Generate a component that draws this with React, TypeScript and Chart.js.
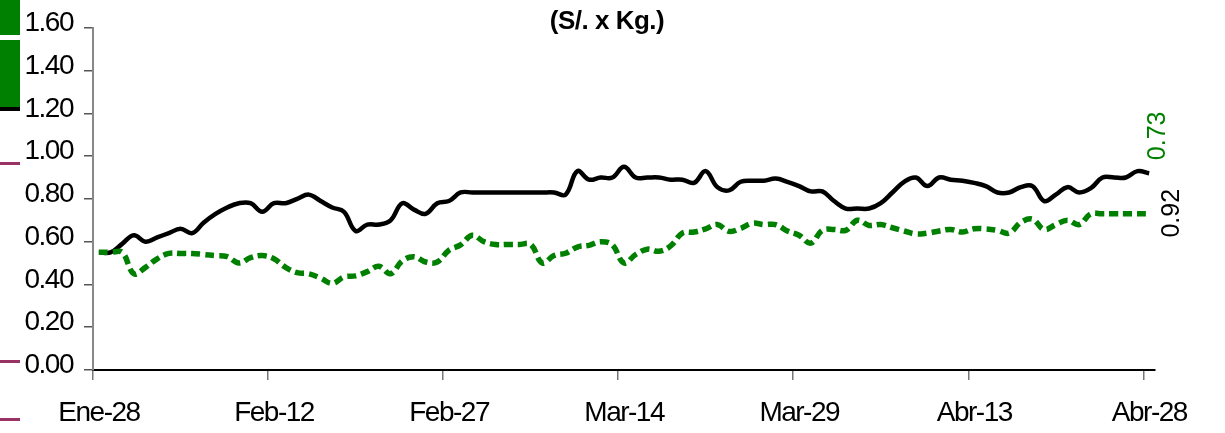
import React, { useEffect, useRef } from "react";
import { Chart, registerables } from "chart.js";

Chart.register(...registerables);

const tickDays = [0, 15, 30, 45, 60, 75, 90];
const tickLabels = ["Ene-28", "Feb-12", "Feb-27", "Mar-14", "Mar-29", "Abr-13", "Abr-28"];
const yTicks = [0, 0.2, 0.4, 0.6, 0.8, 1.0, 1.2, 1.4, 1.6];

const serieNegra = [
  0.55, 0.55, 0.59, 0.63, 0.60, 0.62, 0.64, 0.66, 0.64, 0.69,
  0.73, 0.76, 0.78, 0.78, 0.74, 0.78, 0.78, 0.80, 0.82, 0.79,
  0.76, 0.74, 0.65, 0.68, 0.68, 0.70, 0.78, 0.75, 0.73, 0.78,
  0.79, 0.83, 0.83, 0.83, 0.83, 0.83, 0.83, 0.83, 0.83, 0.83,
  0.82, 0.93, 0.89, 0.90, 0.90, 0.95, 0.90, 0.90, 0.90, 0.89,
  0.89, 0.875, 0.93, 0.855, 0.84, 0.88, 0.885, 0.885, 0.895, 0.88,
  0.86, 0.835, 0.835, 0.79, 0.755, 0.755, 0.755, 0.78, 0.83, 0.88,
  0.90, 0.86, 0.90, 0.89, 0.885, 0.875, 0.86, 0.83, 0.83, 0.855,
  0.86, 0.79, 0.82, 0.855, 0.83, 0.85, 0.90, 0.90, 0.90, 0.93,
  0.92,
];

const serieVerde = [
  0.55, 0.55, 0.55, 0.45, 0.48, 0.52, 0.545, 0.545, 0.545, 0.54,
  0.535, 0.53, 0.50, 0.525, 0.535, 0.52, 0.48, 0.455, 0.45, 0.43,
  0.405, 0.435, 0.44, 0.46, 0.485, 0.45, 0.51, 0.53, 0.505, 0.505,
  0.56, 0.585, 0.63, 0.60, 0.587, 0.587, 0.587, 0.587, 0.50, 0.535,
  0.546, 0.575, 0.583, 0.60, 0.585, 0.50, 0.54, 0.565, 0.555, 0.58,
  0.64, 0.645, 0.66, 0.68, 0.648, 0.662, 0.686, 0.68, 0.68, 0.65,
  0.63, 0.593, 0.653, 0.657, 0.653, 0.70, 0.676, 0.68, 0.665, 0.65,
  0.636, 0.64, 0.65, 0.657, 0.645, 0.66, 0.66, 0.653, 0.64, 0.69,
  0.705, 0.657, 0.68, 0.70, 0.68, 0.73, 0.73, 0.73, 0.73, 0.73,
  0.73,
];

const titulo = "(S/. x Kg.)";
const FONT = "'Liberation Sans', Arial, sans-serif";

const toPoints = (arr: number[]) => arr.map((v, i) => ({ x: i + 0.5, y: v }));

const squeezePlugin = {
  id: "squeeze",
  beforeDraw(chart: any) {
    (chart.ctx as any).letterSpacing = "-1.5px";
  },
  afterDraw(chart: any) {
    (chart.ctx as any).letterSpacing = "0px";
  },
};

const decorPlugin = {
  id: "decor",
  afterDraw(chart: any) {
    const ctx = chart.ctx;
    const xs = chart.scales.x;
    const ys = chart.scales.y;
    ctx.save();
    (ctx as any).letterSpacing = "0px";
    // cropped legend remnants on the left edge
    ctx.fillStyle = "#008000";
    ctx.fillRect(0, 0, 20, 35);
    ctx.fillRect(0, 40, 20, 67);
    ctx.fillStyle = "#000000";
    ctx.fillRect(0, 107, 20, 4);
    ctx.fillStyle = "#993366";
    ctx.fillRect(0, 162, 20, 3);
    ctx.fillRect(0, 360, 20, 3);
    ctx.fillRect(0, 418, 20, 3);

    // title
    ctx.fillStyle = "#000";
    ctx.font = `bold 26px ${FONT}`;
    (ctx as any).letterSpacing = "-0.5px";
    ctx.textAlign = "center";
    ctx.textBaseline = "alphabetic";
    ctx.fillText(titulo, 607, 29);

    // end value labels (rotated)
    (ctx as any).letterSpacing = "0px";
    const last = serieNegra.length - 1;
    const xEnd = xs.getPixelForValue(last + 0.5);
    ctx.font = `25px ${FONT}`;
    ctx.textBaseline = "middle";
    ctx.textAlign = "center";

    ctx.save();
    ctx.translate(xEnd + 9, ys.getPixelForValue(serieVerde[last]) - 78);
    ctx.rotate(-Math.PI / 2);
    ctx.fillStyle = "#008000";
    ctx.fillText(serieVerde[last].toFixed(2), 0, 0);
    ctx.restore();

    ctx.save();
    ctx.translate(xEnd + 23, ys.getPixelForValue(serieNegra[last]) + 40);
    ctx.rotate(-Math.PI / 2);
    ctx.fillStyle = "#000";
    ctx.fillText(serieNegra[last].toFixed(2), 0, 0);
    ctx.restore();

    ctx.restore();
  },
};

export default function App() {
  const ref = useRef<HTMLCanvasElement | null>(null);

  useEffect(() => {
    if (!ref.current) return;
    const chart = new Chart(ref.current, {
      type: "line",
      data: {
        datasets: [
          {
            label: "verde",
            data: toPoints(serieVerde),
            borderColor: "#008000",
            borderWidth: 5.5,
            borderDash: [9, 5],
            borderCapStyle: "butt",
            tension: 0.4,
            pointRadius: 0,
            fill: false,
          },
          {
            label: "negro",
            data: toPoints(serieNegra),
            borderColor: "#000000",
            borderWidth: 4.5,
            tension: 0.4,
            pointRadius: 0,
            fill: false,
          },
        ],
      },
      options: {
        responsive: false,
        animation: false,
        events: [],
        layout: { padding: { left: 0, right: 70, top: 27, bottom: 0 } },
        plugins: {
          legend: { display: false },
          tooltip: { enabled: false },
          title: { display: false },
        },
        scales: {
          x: {
            type: "linear",
            min: 0,
            max: 91,
            afterBuildTicks: (scale: any) => {
              scale.ticks = tickDays.map((v) => ({ value: v }));
            },
            afterFit: (scale: any) => {
              scale.height = 63;
            },
            grid: {
              drawOnChartArea: false,
              drawTicks: true,
              tickLength: 10,
              color: "#777",
              lineWidth: 1.5,
            },
            border: { color: "#000", width: 2 },
            ticks: {
              autoSkip: false,
              maxRotation: 0,
              minRotation: 0,
              padding: 16,
              labelOffset: 6,
              color: "#000",
              font: { family: FONT, size: 28 },
              callback: (_v: any, i: number) => tickLabels[i],
            },
          },
          y: {
            min: 0,
            max: 1.6,
            afterBuildTicks: (scale: any) => {
              scale.ticks = yTicks.map((v) => ({ value: v }));
            },
            afterFit: (scale: any) => {
              scale.width = 93;
            },
            grid: {
              drawOnChartArea: false,
              drawTicks: true,
              tickLength: 9,
              color: "#555",
              lineWidth: 1.5,
            },
            border: { color: "#888", width: 2 },
            ticks: {
              padding: 11,
              labelOffset: -4.5,
              color: "#000",
              font: { family: FONT, size: 28 },
              callback: (v: any) => Number(v).toFixed(2),
            },
          },
        },
      },
      plugins: [squeezePlugin, decorPlugin],
    });
    return () => chart.destroy();
  }, []);

  return (
    <div style={{ position: "absolute", left: 0, top: 0, width: 1225, height: 433, background: "#fff" }}>
      <canvas ref={ref} width={1225} height={433} style={{ display: "block" }} />
    </div>
  );
}
